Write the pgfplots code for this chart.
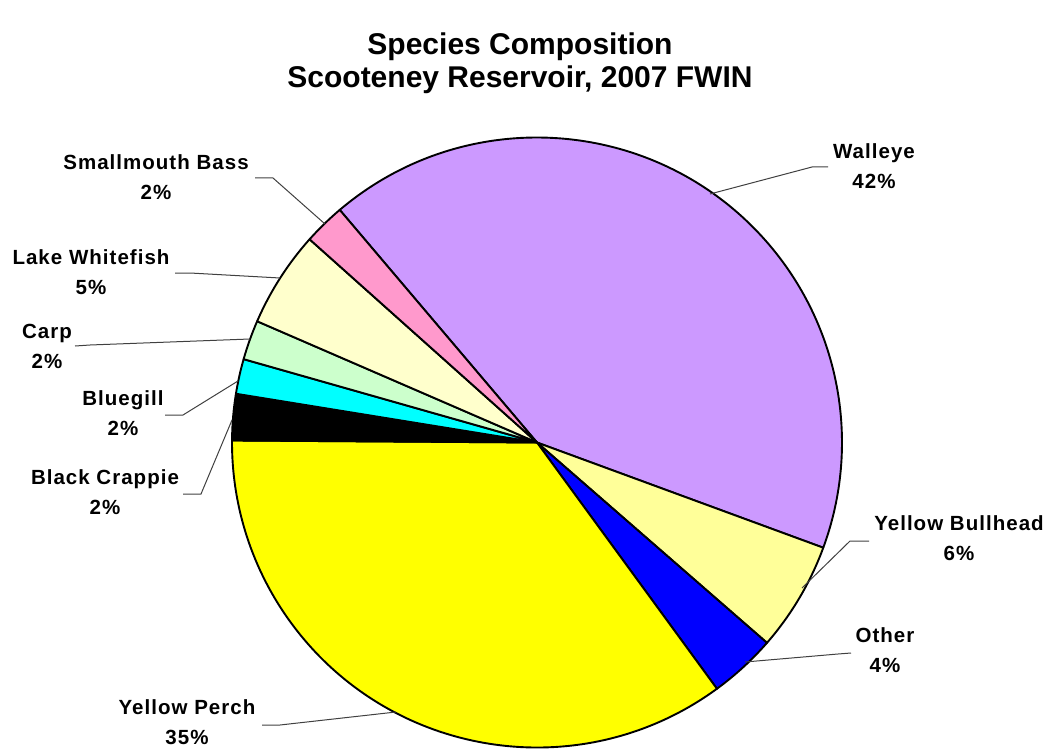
\documentclass[border=0pt]{standalone}
\usepackage{pgfplots}
\usepackage{pgfplotstable}
\pgfplotsset{compat=1.18}
\usepackage{fontspec}
\setmainfont{Liberation Sans}
\newfontfamily\lblfont[LetterSpace=5]{Liberation Sans}
\definecolor{cWalleye}{HTML}{CC99FF}
\definecolor{cYB}{HTML}{FFFF99}
\definecolor{cOther}{HTML}{0000FF}
\definecolor{cYP}{HTML}{FFFF00}
\definecolor{cBC}{HTML}{000000}
\definecolor{cBG}{HTML}{00FFFF}
\definecolor{cCarp}{HTML}{CCFFCC}
\definecolor{cLW}{HTML}{FFFFCC}
\definecolor{cSB}{HTML}{FF99CC}

% species, share of catch (%), colour
\pgfplotstableread{
name value color
Walleye 41.8 cWalleye
YellowBullhead 5.8 cYB
Other 3.55 cOther
YellowPerch 35.15 cYP
BlackCrappie 2.45 cBC
Bluegill 1.85 cBG
Carp 2.1 cCarp
LakeWhitefish 5.1 cLW
SmallmouthBass 2.2 cSB
}\piedata

\begin{document}
\begin{tikzpicture}
\begin{axis}[
  x=1pt, y=1pt,
  xmin=0, xmax=1050, ymin=0, ymax=749,
  y dir=reverse,
  hide axis, clip=false, scale only axis,
]
\pgfmathsetmacro\startang{130.3}
\pgfplotsforeachungrouped \i in {0,...,8}{%
  \pgfplotstablegetelem{\i}{value}\of\piedata \let\v\pgfplotsretval
  \pgfplotstablegetelem{\i}{color}\of\piedata \let\c\pgfplotsretval
  \pgfmathsetmacro\endang{\startang-3.6*\v}%
  \edef\cmd{\noexpand\filldraw[fill=\c, draw=black, line width=1.9pt, line join=round]
    (axis cs:537,442.5) -- ++(\startang:305pt)
    arc[start angle=\startang, end angle=\endang, radius=305pt] -- cycle;}%
  \cmd
  \global\let\startang\endang
}

% leader lines
\pgfplotsset{leader/.style={black!75, line width=1pt, mark=none}}
\addplot[leader] coordinates {(828,167) (812,167) (710,194)};
\addplot[leader] coordinates {(869,541) (850,541) (802,588)};
\addplot[leader] coordinates {(851,653) (838,654) (745,662)};
\addplot[leader] coordinates {(262,725) (280,725) (396,712)};
\addplot[leader] coordinates {(183,494) (201,494) (232,420)};
\addplot[leader] coordinates {(165,415) (183,415) (238,381)};
\addplot[leader] coordinates {(75,346) (90,345) (250,339)};
\addplot[leader] coordinates {(175,273) (190,273) (280,278)};
\addplot[leader] coordinates {(255,178) (273,178) (325,224)};

% title
\node[align=center, font=\fontsize{30}{33}\selectfont\bfseries] at (axis cs:520,63.5)
  {Species Composition\\Scooteney Reservoir, 2007 FWIN};

% labels
\tikzset{lbl/.style={align=center, font=\fontsize{20.5}{30}\lblfont\bfseries}}
\node[lbl] at (axis cs:874,166) {Walleye\\42\%};
\node[lbl] at (axis cs:959,538) {Yellow Bullhead\\6\%};
\node[lbl] at (axis cs:885,650) {Other\\4\%};
\node[lbl] at (axis cs:187,722.5) {Yellow Perch\\35\%};
\node[lbl] at (axis cs:105,492) {Black Crappie\\2\%};
\node[lbl] at (axis cs:123,413) {Bluegill\\2\%};
\node[lbl] at (axis cs:47,346) {Carp\\2\%};
\node[lbl] at (axis cs:91,272) {Lake Whitefish\\5\%};
\node[lbl] at (axis cs:156,177) {Smallmouth Bass\\2\%};
\end{axis}
\pgfresetboundingbox
\path[use as bounding box] (current axis.south west) rectangle (current axis.north east);
\end{tikzpicture}
\end{document}
